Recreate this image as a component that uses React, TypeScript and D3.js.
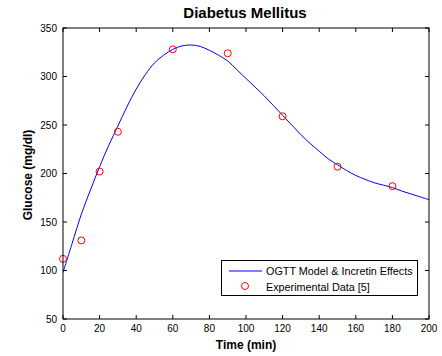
import React from "react";
import * as d3 from "d3";

const modelTime = [0, 5, 10, 15, 20, 25, 30, 35, 40, 45, 50, 55, 60, 65, 70, 75, 80, 85, 90, 95, 100, 105, 110, 115, 120, 125, 130, 135, 140, 145, 150, 155, 160, 165, 170, 175, 180, 185, 190, 195, 200];
const modelGlucose = [98, 128, 158, 183, 207, 229, 249, 269, 287, 302, 314, 322, 328, 331.5, 332.5, 331, 327, 322, 316, 307, 298, 289, 280, 270, 260, 250, 240, 231, 223, 215, 209, 203, 198, 194, 190.5, 188, 185.5, 182, 179, 176, 173];
const expTime = [0, 10, 20, 30, 60, 90, 120, 150, 180];
const expGlucose = [112, 131, 202, 243, 328, 324, 259, 207, 187];
const xTicks = [0, 20, 40, 60, 80, 100, 120, 140, 160, 180, 200];
const yTicks = [50, 100, 150, 200, 250, 300, 350];
const legendLabels = ["OGTT Model & Incretin Effects", "Experimental Data [5]"];

const W = 442, H = 356;
const L = 63, R = 429, T = 28, B = 319;
const font = "Arial, 'Liberation Sans', sans-serif";

export default function App() {
  const x = d3.scaleLinear().domain([0, 200]).range([L, R]);
  const y = d3.scaleLinear().domain([50, 350]).range([B, T]);
  const line = d3.line<number>().x((_, i) => x(modelTime[i])).y((d) => y(d)).curve(d3.curveCatmullRom);
  const tk = 4;
  return (
    <svg width={W} height={H} style={{ position: "absolute", left: 0, top: 0, background: "#fff" }}>
      <rect x={0} y={0} width={W} height={H} fill="#fff" />
      <defs>
        <clipPath id="pc"><rect x={L} y={T} width={R - L} height={B - T} /></clipPath>
      </defs>
      <path d={line(modelGlucose) || ""} fill="none" stroke="#0000ff" strokeWidth={1} clipPath="url(#pc)" />
      {expTime.map((t, i) => (
        <circle key={i} cx={x(t)} cy={y(expGlucose[i])} r={3.5} fill="none" stroke="#ff0000" strokeWidth={1} />
      ))}
      <rect x={L} y={T} width={R - L} height={B - T} fill="none" stroke="#000" strokeWidth={1} />
      {xTicks.map((t) => (
        <g key={t}>
          <line x1={x(t)} x2={x(t)} y1={B} y2={B - tk} stroke="#000" />
          <line x1={x(t)} x2={x(t)} y1={T} y2={T + tk} stroke="#000" />
          <text x={x(t)} y={332} fontSize={10} fontFamily={font} textAnchor="middle">{t}</text>
        </g>
      ))}
      {yTicks.map((v) => (
        <g key={v}>
          <line x1={L} x2={L + tk} y1={y(v)} y2={y(v)} stroke="#000" />
          <line x1={R} x2={R - tk} y1={y(v)} y2={y(v)} stroke="#000" />
          <text x={57} y={y(v) + 3.5} fontSize={10} fontFamily={font} textAnchor="end">{v}</text>
        </g>
      ))}
      <text x={245} y={18} fontSize={15} fontWeight="bold" fontFamily={font} textAnchor="middle">Diabetus Mellitus</text>
      <text x={(L + R) / 2} y={349} fontSize={12} fontWeight="bold" fontFamily={font} textAnchor="middle">Time (min)</text>
      <text transform={`translate(32,175) rotate(-90)`} fontSize={12} fontWeight="bold" fontFamily={font} textAnchor="middle">Glucose (mg/dl)</text>
      <rect x={221.5} y={260.5} width={196} height={35} fill="#fff" stroke="#000" strokeWidth={1} />
      <line x1={229} x2={262} y1={271} y2={271} stroke="#0000ff" strokeWidth={1} />
      <text x={266} y={275} fontSize={10.8} fontFamily={font}>{legendLabels[0]}</text>
      <circle cx={245} cy={286} r={3.5} fill="none" stroke="#ff0000" strokeWidth={1} />
      <text x={266} y={291} fontSize={10.8} fontFamily={font}>{legendLabels[1]}</text>
    </svg>
  );
}
